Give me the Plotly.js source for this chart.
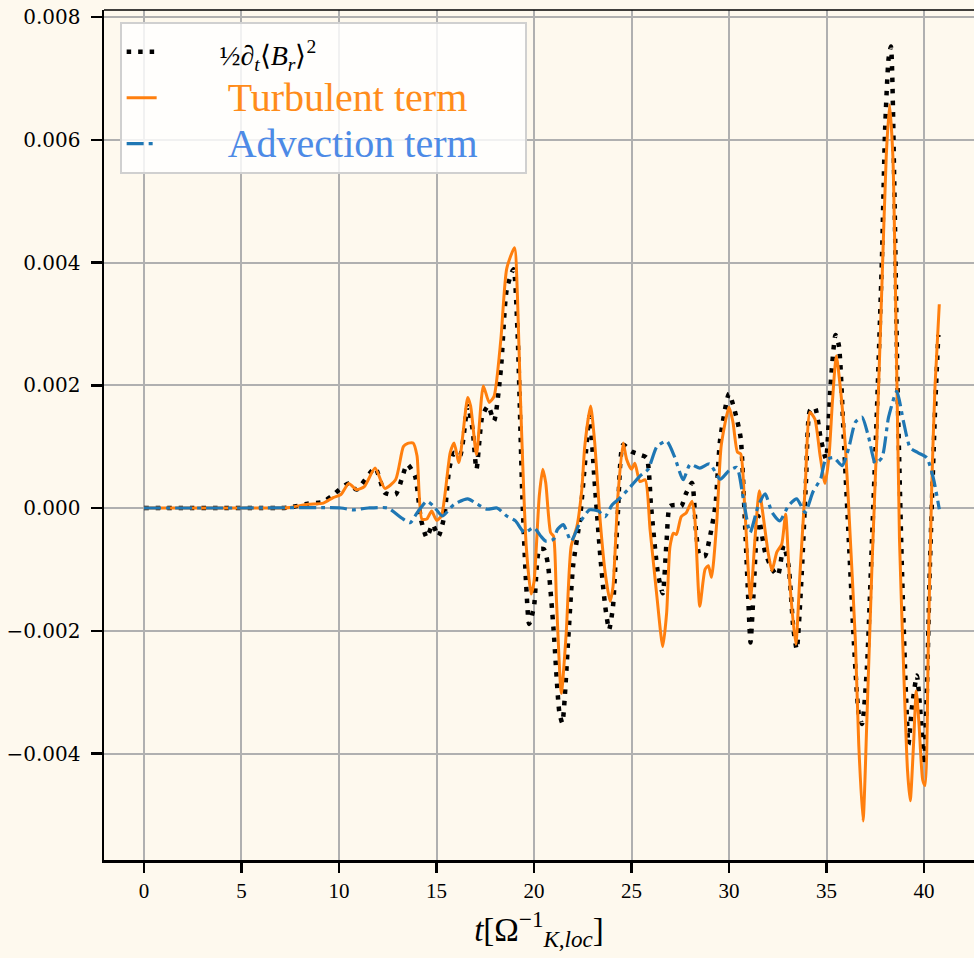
<!DOCTYPE html>
<html>
<head>
<meta charset="utf-8">
<script src="https://cdn.plot.ly/plotly-3.0.1.min.js"></script>
<style>html,body{margin:0;padding:0;background:#fef9ee;}</style>
</head>
<body>
<div id="chart" style="width:974px;height:958px;"></div>
<script>
// dB^2/dt series (black dotted)
const tTotal = [0, 2, 4, 6, 7, 7.5, 8.4, 9.2, 9.6, 10.5, 10.9, 11.85, 12.35, 12.9, 13.5, 13.9, 14.2, 14.5, 14.8, 15.1, 15.4, 15.65, 15.9, 16.2, 16.6, 16.85, 17.05, 17.35, 17.65, 17.95, 18.3, 18.6, 18.95, 19.15, 19.4, 19.6, 19.75, 20.0, 20.27, 20.5, 20.7, 21.0, 21.3, 21.45, 21.75, 22.0, 22.35, 22.6, 22.85, 23.1, 23.4, 23.65, 23.85, 24.05, 24.3, 24.57, 25.0, 25.43, 25.77, 26.0, 26.35, 26.6, 26.8, 26.97, 27.3, 27.55, 27.8, 28.1, 28.3, 28.5, 28.77, 29.0, 29.3, 29.55, 30.0, 30.4, 30.6, 30.8, 31.0, 31.1, 31.25, 31.5, 31.85, 32.2, 32.5, 32.8, 33.05, 33.3, 33.47, 33.73, 33.95, 34.15, 34.4, 34.7, 34.97, 35.2, 35.46, 35.63, 35.88, 36.14, 36.4, 36.65, 36.82, 37.07, 37.33, 37.58, 37.84, 38.0, 38.18, 38.3, 38.47, 38.64, 38.86, 39.07, 39.2, 39.37, 39.63, 39.8, 40.0, 40.14, 40.3, 40.56, 40.73];
const vTotal = [0, 0, 0, 0, 0, 0.00001, 0.00007, 0.00010, 0.00019, 0.00040, 0.00030, 0.00065, 0.00025, 0.00022, 0.00071, 0.00052, -0.00018, -0.00048, -0.00027, -0.00046, -0.00013, 0.00063, 0.00090, 0.00085, 0.00166, 0.00128, 0.00063, 0.00150, 0.00166, 0.00142, 0.00226, 0.00356, 0.00389, 0.00290, 0.00020, -0.00127, -0.00189, -0.00160, -0.00067, -0.00067, -0.00089, -0.00197, -0.00333, -0.00350, -0.00215, -0.00095, -0.00019, 0.00068, 0.00150, 0.00046, -0.00079, -0.00160, -0.00198, -0.00160, -0.00008, 0.00103, 0.00092, 0.00087, 0.00082, 0.00003, -0.00106, -0.00139, -0.00052, 0.00003, 0.00005, 0.00003, 0.00024, 0.00041, -0.00035, -0.00078, -0.00078, -0.00050, 0.00004, 0.00113, 0.00186, 0.00145, 0.00113, -0.00013, -0.00159, -0.00219, -0.00143, -0.00013, -0.00072, -0.00099, -0.00110, -0.00061, -0.00094, -0.00197, -0.00230, -0.00105, 0.00047, 0.00159, 0.00164, 0.00113, 0.00080, 0.00198, 0.00282, 0.00265, 0.00115, -0.00052, -0.00218, -0.00335, -0.00352, -0.00260, -0.00052, 0.00157, 0.00407, 0.00615, 0.00732, 0.00752, 0.00532, 0.00198, -0.00093, -0.00302, -0.00385, -0.00327, -0.00273, -0.00327, -0.00418, -0.00302, -0.00093, 0.00157, 0.00282];

// Turbulent term (orange)
const tTurb = [0, 2, 4, 6, 7, 7.5, 8.4, 9.2, 9.7, 10.1, 10.5, 10.9, 11.3, 11.85, 12.35, 12.9, 13.3, 13.5, 13.8, 14.0, 14.25, 14.5, 14.75, 15.0, 15.25, 15.7, 15.9, 16.15, 16.6, 16.75, 17.05, 17.4, 17.7, 17.95, 18.3, 18.6, 19.0, 19.15, 19.3, 19.6, 19.85, 20.0, 20.27, 20.45, 20.6, 20.85, 21.0, 21.15, 21.4, 21.65, 21.9, 22.2, 22.45, 22.6, 22.9, 23.1, 23.4, 23.65, 23.9, 24.05, 24.3, 24.57, 24.75, 25.0, 25.17, 25.43, 25.7, 25.95, 26.3, 26.6, 26.8, 26.97, 27.15, 27.3, 27.55, 27.8, 28.1, 28.25, 28.5, 28.77, 28.94, 29.1, 29.37, 29.6, 30.0, 30.2, 30.43, 30.6, 30.8, 31.1, 31.33, 31.55, 31.75, 32.0, 32.2, 32.45, 32.7, 32.9, 33.1, 33.42, 33.64, 33.9, 34.15, 34.4, 34.67, 34.92, 35.12, 35.3, 35.5, 35.7, 35.97, 36.22, 36.48, 36.65, 36.87, 37.07, 37.33, 37.58, 37.84, 38.06, 38.23, 38.4, 38.57, 38.74, 38.95, 39.15, 39.29, 39.46, 39.6, 39.74, 39.93, 40.05, 40.22, 40.39, 40.56, 40.78];
const vTurb = [0, 0, 0, 0, 0, 0.00001, 0.00006, 0.00008, 0.00017, 0.00022, 0.00040, 0.00030, 0.00035, 0.00065, 0.00032, 0.00046, 0.00100, 0.00105, 0.00106, 0.00085, -0.00018, -0.00018, -0.00005, -0.00020, -0.00013, 0.00090, 0.00106, 0.00074, 0.00180, 0.00166, 0.00087, 0.00199, 0.00172, 0.00182, 0.00275, 0.00390, 0.00424, 0.00345, 0.00182, -0.00062, -0.00140, -0.00120, 0.00020, 0.00063, 0.00041, -0.00040, -0.00046, -0.00150, -0.00302, -0.00204, -0.00063, -0.00030, 0.00030, 0.00100, 0.00166, 0.00111, -0.00024, -0.00106, -0.00152, -0.00128, 0.00019, 0.00106, 0.00079, 0.00063, 0.00073, 0.00043, 0.00046, -0.00035, -0.00144, -0.00226, -0.00171, -0.00063, -0.00041, -0.00043, -0.00014, -0.00008, 0.00011, -0.00019, -0.00160, -0.00100, -0.00094, -0.00113, -0.00023, 0.00102, 0.00164, 0.00140, 0.00091, 0.00088, 0.00004, -0.00148, -0.00050, 0.00028, -0.00013, -0.00072, -0.00102, -0.00072, -0.00059, -0.00010, -0.00116, -0.00222, -0.00105, 0.00031, 0.00156, 0.00145, 0.00085, 0.00040, 0.00082, 0.00173, 0.00248, 0.00198, 0.00098, -0.00052, -0.00218, -0.00385, -0.00510, -0.00343, -0.00093, 0.00115, 0.00365, 0.00573, 0.00657, 0.00573, 0.00282, -0.00052, -0.00260, -0.00427, -0.00477, -0.00385, -0.00298, -0.00352, -0.00443, -0.00452, -0.00218, 0.00032, 0.00198, 0.00332];

// Advection term (blue)
const tAdv = [0, 5, 10.1, 10.7, 11.5, 12.5, 13.2, 13.65, 14.0, 14.5, 14.85, 15.3, 15.9, 16.6, 17.1, 17.6, 18.1, 18.6, 19.05, 19.5, 20.0, 20.35, 20.6, 21.0, 21.2, 21.5, 21.9, 22.35, 22.85, 23.3, 23.65, 24.0, 24.4, 24.9, 25.43, 25.85, 26.3, 26.8, 27.2, 27.65, 28.0, 28.5, 29.0, 29.55, 30.0, 30.4, 30.73, 31.08, 31.5, 31.85, 32.2, 32.6, 33.05, 33.47, 33.9, 34.3, 34.7, 34.95, 35.37, 35.8, 36.14, 36.48, 36.82, 37.16, 37.5, 37.84, 38.18, 38.6, 38.95, 39.29, 39.7, 40.14, 40.48, 40.78];
const vAdv = [0, 0, 0, -0.00003, 0, 0, -0.00016, -0.00024, -0.00008, 0.00011, 0.00003, -0.00013, 0.00006, 0.00015, 0.00006, -0.00002, 0.00000, -0.00013, -0.00021, -0.00040, -0.00032, -0.00046, -0.00054, -0.00051, -0.00035, -0.00027, -0.00054, -0.00024, -0.00003, -0.00005, -0.00014, 0.00005, 0.00016, 0.00033, 0.00052, 0.00063, 0.00100, 0.00109, 0.00084, 0.00046, 0.00071, 0.00065, 0.00072, 0.00047, 0.00061, 0.00066, 0.00015, -0.00040, 0.00004, 0.00023, -0.00007, -0.00021, 0.00004, 0.00015, -0.00007, 0.00026, 0.00048, 0.00078, 0.00082, 0.00069, 0.00098, 0.00140, 0.00148, 0.00115, 0.00073, 0.00082, 0.00148, 0.00190, 0.00140, 0.00098, 0.00090, 0.00082, 0.00048, -0.00002];

const xTicks = [0, 5, 10, 15, 20, 25, 30, 35, 40];
const yTicks = [-0.004, -0.002, 0.000, 0.002, 0.004, 0.006, 0.008];

const NB = '\u00a0';
const names = [
  NB.repeat(7) + '<span style="font-size:28px">½∂<sub><i>t</i></sub>⟨<i>B</i><sub><i>r</i></sub>⟩<sup>2</sup></span>',
  NB.repeat(8) + '<span style="color:#ff8c1a;font-size:40px">Turbulent term</span>' + NB.repeat(5),
  NB.repeat(8) + '<span style="color:#4d8ae6;font-size:40px">Advection term</span>' + NB.repeat(5)
];

const traces = [
  {x: tTotal, y: vTotal, name: names[0], mode: 'lines',
   line: {color: '#000000', width: 4.5, dash: '4.5px,7px', shape: 'spline', smoothing: 0.6}},
  {x: tTurb, y: vTurb, name: names[1], mode: 'lines',
   line: {color: '#ff7f0e', width: 3, shape: 'spline', smoothing: 0.6}},
  {x: tAdv, y: vAdv, name: names[2], mode: 'lines',
   line: {color: '#1f77b4', width: 3.2, dash: '17px,5px,4px,5px', shape: 'spline', smoothing: 0.6}}
];

const layout = {
  width: 974, height: 958,
  margin: {l: 104, r: 0, t: 10, b: 98},
  paper_bgcolor: '#fef9ee',
  plot_bgcolor: '#fef9ee',
  showlegend: true,
  legend: {
    x: 0.018, y: 0.986, xanchor: 'left', yanchor: 'top',
    bgcolor: 'rgba(255,255,255,0.82)', bordercolor: '#d0d0d0', borderwidth: 2,
    font: {family: 'Liberation Serif, serif', size: 33, color: '#000'},
    itemwidth: 30
  },
  xaxis: {
    range: [-2.05, 42.56],
    tickvals: xTicks, ticktext: xTicks.map(String),
    showgrid: true, gridcolor: '#b0b0b0', gridwidth: 2,
    zeroline: false,
    showline: true, linecolor: '#000', linewidth: 2.5,
    ticks: 'outside', ticklen: 10, tickwidth: 2.5, tickcolor: '#000',
    tickfont: {family: 'Liberation Serif, serif', size: 21, color: '#000'},
    title: {text: '<i>t</i>[Ω<sup>−1</sup><sub><i>K,loc</i></sub>]', standoff: 16,
            font: {family: 'Liberation Serif, serif', size: 33, color: '#000'}}
  },
  yaxis: {
    range: [-0.005735, 0.008114],
    tickvals: yTicks, ticktext: yTicks.map(v => (v < 0 ? '−' : '') + Math.abs(v).toFixed(3)),
    showgrid: true, gridcolor: '#b0b0b0', gridwidth: 2,
    zeroline: false,
    showline: true, linecolor: '#000', linewidth: 2.5,
    ticks: 'outside', ticklen: 11, tickwidth: 2.5, tickcolor: '#000',
    ticklabelstandoff: 6,
    tickfont: {family: 'DejaVu Serif, serif', size: 20, color: '#000'}
  },
  shapes: [
    {type: 'line', xref: 'paper', yref: 'paper', x0: 0, x1: 1, y0: 1, y1: 1,
     line: {color: '#000', width: 1.5}}
  ]
};

Plotly.newPlot('chart', traces, layout, {staticPlot: true, displayModeBar: false});
</script>
</body>
</html>
